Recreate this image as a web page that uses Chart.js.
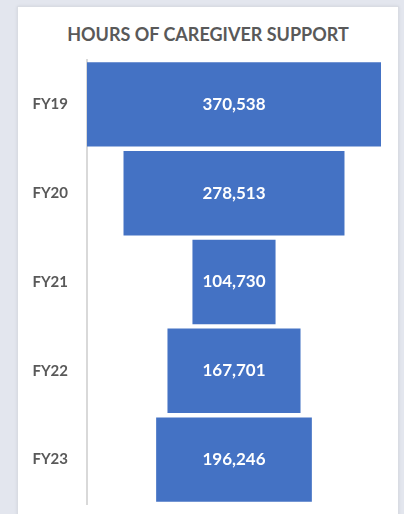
<!DOCTYPE html>
<html lang="en">
<head>
    <meta charset="UTF-8">
    <title>Hours of Caregiver Support</title>
    <style>
        body {
            margin: 0;
            background-color: #e3e6ee;
            font-family: 'Lato', sans-serif;
            overflow: hidden;
        }

        .card {
            position: absolute;
            left: 17px;
            top: 6px;
            width: 380px;
            height: 530px;
            background-color: #ffffff;
            border: 1px solid #d9dce3;
            box-shadow: 0 0 3px rgba(0, 0, 0, 0.08);
        }

        .card h2 {
            position: absolute;
            top: 16px;
            left: 0;
            width: 100%;
            margin: 0;
            text-align: center;
            font-size: 18px;
            font-weight: bold;
            color: #595959;
        }

        #funnelChart {
            position: absolute;
            left: 0;
            top: 0;
            width: 380px;
            height: 525px;
        }
    </style>
    <script src="https://cdn.jsdelivr.net/npm/chart.js@4/dist/chart.umd.min.js"></script>
</head>
<body>
    <div class="card">
        <h2>HOURS OF CAREGIVER SUPPORT</h2>
        <canvas id="funnelChart" width="380" height="525"></canvas>
    </div>

    <script>
        const years = ['FY19', 'FY20', 'FY21', 'FY22', 'FY23'];
        const hours = [370538, 278513, 104730, 167701, 196246];

        const maxHours = Math.max(...hours);

        // white value labels in the middle of each bar
        const valueLabels = {
            id: 'valueLabels',
            afterDatasetsDraw(chart) {
                const ctx = chart.ctx;
                const meta = chart.getDatasetMeta(0);
                ctx.save();
                ctx.fillStyle = '#ffffff';
                ctx.font = 'bold 17px Lato';
                ctx.textAlign = 'center';
                ctx.textBaseline = 'middle';
                meta.data.forEach((bar, i) => {
                    const p = bar.getCenterPoint();
                    ctx.fillText(hours[i].toLocaleString('en-US'), p.x, p.y);
                });
                ctx.restore();
            }
        };

        const ctx = document.getElementById('funnelChart').getContext('2d');

        new Chart(ctx, {
            type: 'bar',
            data: {
                labels: years,
                datasets: [{
                    data: hours.map(h => [-h / 2, h / 2]),
                    backgroundColor: '#4472c4',
                    borderWidth: 0,
                    barPercentage: 0.95,
                    categoryPercentage: 1
                }]
            },
            options: {
                indexAxis: 'y',
                responsive: false,
                animation: false,
                layout: {
                    padding: { top: 53, right: 17, bottom: 12, left: 0 }
                },
                scales: {
                    x: {
                        display: false,
                        min: -maxHours / 2,
                        max: maxHours / 2
                    },
                    y: {
                        afterFit(scale) { scale.width = 69; },
                        grid: { display: false, drawTicks: false },
                        border: { display: true, color: '#d9d9d9', width: 2 },
                        ticks: {
                            padding: 19,
                            color: '#595959',
                            font: { family: 'Lato', size: 15, weight: 'bold' }
                        }
                    }
                },
                plugins: {
                    legend: { display: false },
                    tooltip: { enabled: false }
                }
            },
            plugins: [valueLabels]
        });
    </script>
</body>
</html>
